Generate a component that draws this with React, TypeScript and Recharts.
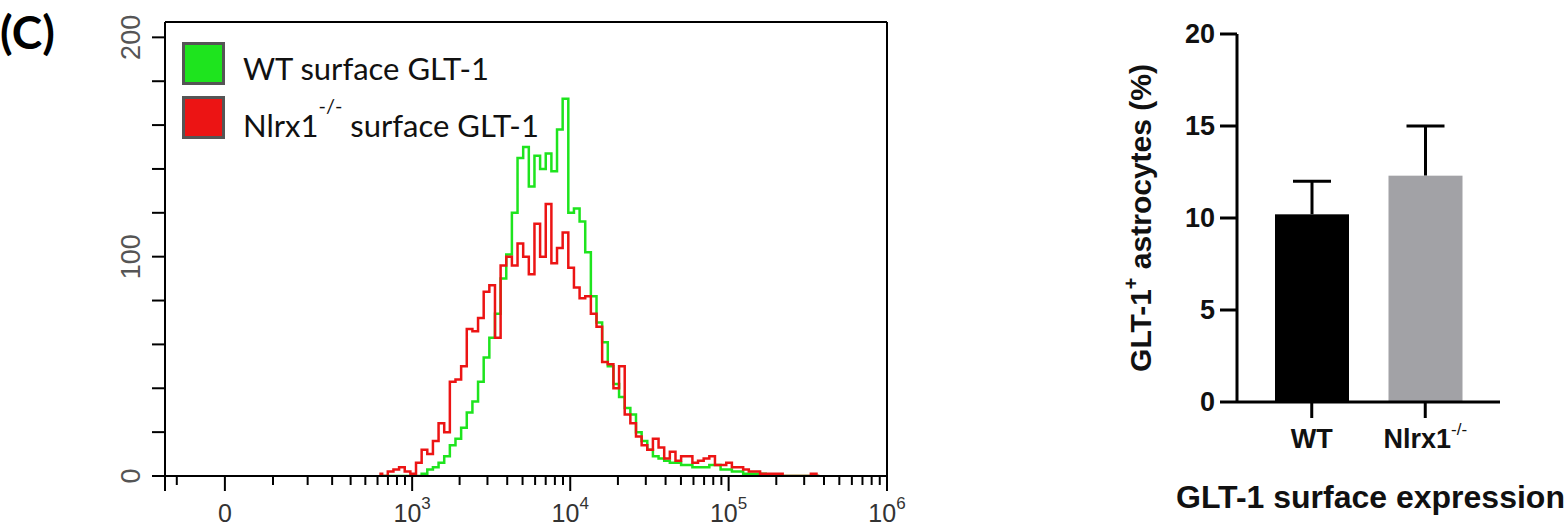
import { LineChart, Line, XAxis, YAxis, ReferenceLine, BarChart, Bar, Cell, Label } from 'recharts';

// flow histogram, counts per display bin (1024-channel biexponential axis, 8 channels per bin)
const BIN_START = 304;
const BIN_WIDTH = 8;
const wtCounts = [
  0, 0, 0, 0, 0, 0, 0, 0, 1, 3, 4, 6, 9, 14, 17, 22, 29, 34, 43, 54,
  63, 74, 90, 101, 120, 145, 150, 132, 146, 140, 147, 139, 158, 172, 120, 122, 116, 102, 82, 70,
  61, 50, 42, 36, 31, 28, 20, 16, 12, 9, 8, 7, 6, 6, 5, 5, 4, 4, 4, 5,
  5, 3, 3, 2, 2, 1, 1, 1, 1, 0, 0, 0, 0, 0, 0, 0, 0, 0, 0,
];
const koCounts = [
  1, 0, 2, 3, 4, 2, 1, 6, 12, 10, 16, 24, 20, 43, 44, 50, 67, 66, 72, 84,
  87, 63, 96, 100, 96, 106, 100, 92, 115, 100, 124, 97, 104, 111, 95, 86, 81, 82, 74, 68,
  52, 51, 40, 50, 28, 24, 18, 14, 12, 17, 13, 8, 11, 7, 9, 9, 6, 7, 8, 9,
  5, 5, 6, 4, 4, 3, 2, 2, 1, 1, 1, 1, 0, 0, 0, 0, 0, 1, 0,
];

// axis in fluorescence units (asinh display)
const X_MIN = -130;
const X_MAX = 1e6;
const X_COFACTOR = 132;
const xMajor = [0, 1e3, 1e4, 1e5, 1e6];
const xMajorLabels = [['0', ''], ['10', '3'], ['10', '4'], ['10', '5'], ['10', '6']];
const xMinor = [
  -100, 100, 200, 300, 400, 500, 600, 700, 800, 900,
  2e3, 3e3, 4e3, 5e3, 6e3, 7e3, 8e3, 9e3,
  2e4, 3e4, 4e4, 5e4, 6e4, 7e4, 8e4, 9e4,
  2e5, 3e5, 4e5, 5e5, 6e5, 7e5, 8e5, 9e5,
];
const yTicks = [0, 20, 40, 60, 80, 100, 120, 140, 160, 180, 200];
const Y_MAX = 207;

// bar panel
const groups = ['WT', 'Nlrx1'];
const means = [10.2, 12.3];
const sds = [1.8, 2.7];
const barTicks = [0, 5, 10, 15, 20];

const GREEN = '#1ee41e';
const RED = '#ec1414';

const toCh = (v: number) => {
  const a0 = Math.asinh(X_MIN / X_COFACTOR);
  const a1 = Math.asinh(X_MAX / X_COFACTOR);
  return ((Math.asinh(v / X_COFACTOR) - a0) / (a1 - a0)) * 1024;
};

const histData = wtCounts.map((c, i) => ({
  ch: BIN_START + i * BIN_WIDTH,
  wt: c,
  ko: koCounts[i],
}));

const xTicks = [
  { v: X_MIN, major: true, label: null as string[] | null },
  ...xMajor.map((v, i) => ({ v, major: true, label: xMajorLabels[i] })),
  ...xMinor.map((v) => ({ v, major: false, label: null as string[] | null })),
].sort((a, b) => a.v - b.v);

const NARROW = '"Liberation Sans Narrow", "Arial Narrow", "Liberation Sans", Arial, sans-serif';
const ARIAL = '"Liberation Sans", Arial, sans-serif';

const HistXTick = (props: any) => {
  const { x, y, index } = props;
  const t = xTicks[index];
  if (!t) return null;
  return (
    <g>
      <line x1={x} x2={x} y1={y} y2={y + (t.major ? 15 : 9)} stroke="#000" strokeWidth={2} />
      {t.label && (
        <text x={x} y={y + 46} textAnchor="middle" fontFamily={NARROW} fontSize={25} fill="#333">
          <tspan>{t.label[0]}</tspan>
          {t.label[1] && (
            <tspan dy={-13} fontSize={17}>
              {t.label[1]}
            </tspan>
          )}
        </text>
      )}
    </g>
  );
};

const HistYTick = (props: any) => {
  const { x, y, payload } = props;
  const v = payload.value;
  return (
    <g>
      <line x1={x - 13} x2={x} y1={y} y2={y} stroke="#000" strokeWidth={2} />
      {v % 100 === 0 && (
        <text
          x={x - 25}
          y={y}
          transform={`rotate(-90 ${x - 25} ${y})`}
          textAnchor="middle"
          fontFamily={NARROW}
          fontSize={27}
          fill="#555"
        >
          {v}
        </text>
      )}
    </g>
  );
};

const BarXTick = (props: any) => {
  const { x, y, payload } = props;
  return (
    <g>
      <line x1={x} x2={x} y1={y} y2={y + 16} stroke="#000" strokeWidth={3} />
      <text x={x} y={y + 46} textAnchor="middle" fontFamily={ARIAL} fontWeight="bold" fontSize={27} fill="#111">
        <tspan>{payload.value}</tspan>
        {payload.value === 'Nlrx1' && (
          <tspan dy={-13} fontSize={17} fontWeight="normal">
            -/-
          </tspan>
        )}
      </text>
    </g>
  );
};

const BarYTick = (props: any) => {
  const { x, y, payload } = props;
  return (
    <g>
      <line x1={x - 17} x2={x} y1={y} y2={y} stroke="#000" strokeWidth={3} />
      <text x={x - 22} y={y + 9} textAnchor="end" fontFamily={ARIAL} fontWeight="bold" fontSize={27} fill="#111">
        {payload.value}
      </text>
    </g>
  );
};

// bar with an upward SD whisker (drawn under the bar, like Prism)
const BarWithSD = (props: any) => {
  const { x, y, width, height, fill, payload } = props;
  const perUnit = height / payload.mean;
  const top = y - payload.sd * perUnit;
  const cx = x + width / 2;
  return (
    <g>
      <line x1={cx} x2={cx} y1={y} y2={top} stroke="#000" strokeWidth={3} />
      <line x1={cx - 19} x2={cx + 19} y1={top} y2={top} stroke="#000" strokeWidth={3} />
      <rect x={x} y={y} width={width} height={height} fill={fill} />
    </g>
  );
};

const barData = groups.map((g, i) => ({ name: g, mean: means[i], sd: sds[i] }));
const barFills = ['#000000', '#a2a2a6'];

export default function App() {
  return (
    <div style={{ position: 'absolute', left: 0, top: 0, width: 1567, height: 528, background: '#fff' }}>
      <div style={{ position: 'absolute', left: 0, top: 0 }}>
        <LineChart width={930} height={528} data={histData} margin={{ top: 22, right: 43, left: 0, bottom: 0 }}>
          <XAxis
            dataKey="ch"
            type="number"
            domain={[0, 1024]}
            allowDataOverflow
            ticks={xTicks.map((t) => toCh(t.v))}
            interval={0}
            tickSize={0}
            tickMargin={0}
            tick={<HistXTick />}
            axisLine={{ stroke: '#000', strokeWidth: 2 }}
            height={52}
          />
          <YAxis
            type="number"
            domain={[0, Y_MAX]}
            allowDataOverflow
            ticks={yTicks}
            interval={0}
            tickSize={0}
            tickMargin={0}
            tick={<HistYTick />}
            axisLine={{ stroke: '#000', strokeWidth: 2 }}
            width={165}
          />
          <ReferenceLine y={Y_MAX} stroke="#000" strokeWidth={2} />
          <ReferenceLine x={1024} stroke="#000" strokeWidth={2} />
          <Line type="step" dataKey="wt" stroke={GREEN} strokeWidth={2.5} dot={false} isAnimationActive={false} />
          <Line type="step" dataKey="ko" stroke={RED} strokeWidth={2.5} dot={false} isAnimationActive={false} />
        </LineChart>
      </div>

      <svg width={560} height={150} style={{ position: 'absolute', left: 0, top: 0 }}>
        <text x={0} y={49} fontFamily="Lato, 'Open Sans', sans-serif" fontWeight="bold" fontSize={46} fill="#000">
          (C)
        </text>
        <rect x={183.5} y={43.5} width={40} height={40} fill={GREEN} stroke="#555" strokeWidth={3} />
        <rect x={183.5} y={97.5} width={40} height={40} fill={RED} stroke="#555" strokeWidth={3} />
        <text x={243} y={80} fontFamily="Lato, 'Open Sans', sans-serif" fontSize={31} fill="#111">
          WT surface GLT-1
        </text>
        <text x={243} y={137} fontFamily="Lato, 'Open Sans', sans-serif" fontSize={31} fill="#111">
          <tspan>Nlrx1</tspan>
          <tspan dy={-24} fontSize={20}>-/-</tspan>
          <tspan dy={24}> surface GLT-1</tspan>
        </text>
      </svg>

      <div style={{ position: 'absolute', left: 1100, top: 0 }}>
        <BarChart width={467} height={528} data={barData} margin={{ top: 34, right: 67, left: 0, bottom: 0 }}>
          <XAxis
            dataKey="name"
            padding={{ left: 18, right: 18 }}
            tickSize={0}
            tickMargin={0}
            tick={<BarXTick />}
            axisLine={{ stroke: '#000', strokeWidth: 3 }}
            height={126}
          >
            <Label
              content={(p: any) => {
                const vb = p.viewBox;
                return (
                  <text
                    x={vb.x + vb.width / 2 + 2}
                    y={vb.y + 106}
                    textAnchor="middle"
                    fontFamily={ARIAL}
                    fontWeight="bold"
                    fontSize={32}
                    fill="#111"
                  >
                    GLT-1 surface expression
                  </text>
                );
              }}
            />
          </XAxis>
          <YAxis
            type="number"
            domain={[0, 20]}
            ticks={barTicks}
            interval={0}
            tickSize={0}
            tickMargin={0}
            tick={<BarYTick />}
            axisLine={{ stroke: '#000', strokeWidth: 3 }}
            width={137}
          >
            <Label
              content={(p: any) => {
                const vb = p.viewBox;
                const cx = 51;
                const cy = vb.y + vb.height / 2;
                return (
                  <text
                    x={cx}
                    y={cy}
                    transform={`rotate(-90 ${cx} ${cy})`}
                    textAnchor="middle"
                    fontFamily={ARIAL}
                    fontWeight="bold"
                    fontSize={30}
                    fill="#111"
                  >
                    <tspan>GLT-1</tspan>
                    <tspan dy={-13} fontSize={20}>+</tspan>
                    <tspan dy={13}> astrocytes (%)</tspan>
                  </text>
                );
              }}
            />
          </YAxis>
          <Bar dataKey="mean" barSize={74} shape={<BarWithSD />} isAnimationActive={false}>
            {barData.map((d, i) => (
              <Cell key={d.name} fill={barFills[i]} />
            ))}
          </Bar>
        </BarChart>
      </div>
    </div>
  );
}
